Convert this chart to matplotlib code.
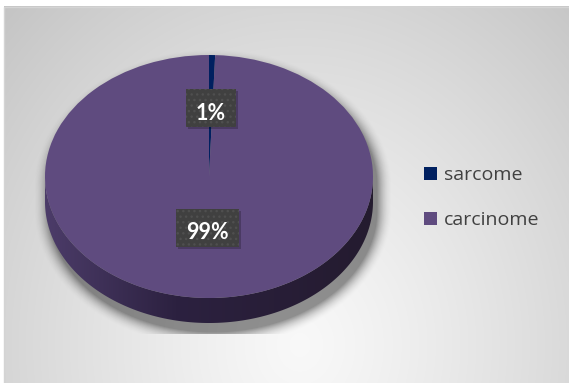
import numpy as np
import matplotlib
matplotlib.use('Agg')
import matplotlib.pyplot as plt
from matplotlib.patches import Polygon, Rectangle
from matplotlib.colors import LinearSegmentedColormap

plt.rcParams['hatch.linewidth'] = 1.0

# données
types = ['sarcome', 'carcinome']
parts = [0.6, 99.4]
couleurs = ['#002060', '#5f4b7f']
couleurs_cote = [['#0b1d4a', '#061332', '#040d24'],
                 ['#4c3c69', '#2c2140', '#241b2f']]
dist_etiq = [0.56, 0.42]

W, H = 569, 383
fig = plt.figure(figsize=(W / 100, H / 100), dpi=100)
fig.patch.set_facecolor('white')

# fond dégradé + ombre du camembert (coordonnées pixels)
bg = fig.add_axes([0, 0, 1, 1])
bg.set_xlim(0, W)
bg.set_ylim(H, 0)
bg.axis('off')

x0, y0 = 4, 6
yy, xx = np.mgrid[y0:H, x0:W] + 0.5
d = np.hypot((xx - 300) / 330, (yy - 345) / 380)
v = np.clip(0.975 - 0.155 * d ** 1.2, 0, 1)
bg.imshow(np.dstack([v, v, v]), extent=(x0, W, H, y0), aspect='auto', zorder=0)

cx, cy, a, b, ep = 209, 176.5, 164, 121.5, 25   # centre, demi-axes, épaisseur (px)
dxs = xx - cx - 4
dys = yy - cy - 9
dye = np.where(dys < 0, dys, np.maximum(dys - ep, 0))
r = np.hypot(dxs / a, dye / b)
rloc = np.hypot(dxs, dye) / np.maximum(r, 1e-6)
dd = (r - 1) * rloc
al = 0.42 * np.clip(1 - dd / 16, 0, 1) ** 2
al[yy > 334] = 0
ombre = np.zeros(al.shape + (4,))
ombre[..., 3] = al
bg.imshow(ombre, extent=(x0, W, H, y0), aspect='auto', zorder=1)
bg.add_patch(Rectangle((x0 + 0.5, y0 + 0.5), W, H, fill=False, ec='#d4d4d4', lw=1, zorder=2))

# camembert 3D : axes à échelle non égale => ellipse
lim_x, lim_y = 1.3, 1.4
axp = fig.add_axes([(cx - lim_x * a) / W, 1 - (cy + lim_y * b) / H,
                    2 * lim_x * a / W, 2 * lim_y * b / H])
wedges, _ = axp.pie(parts, colors=couleurs, startangle=90, counterclock=False,
                    wedgeprops=dict(linewidth=0))
for w in wedges:
    w.set_zorder(3)

ep_d = ep / b
for w, cc in zip(wedges, couleurs_cote):
    t = np.radians(np.linspace(w.theta1, w.theta2, 3000))
    t = t[np.sin(t) <= 0]
    if len(t) < 2:
        continue
    haut = np.column_stack([np.cos(t), np.sin(t)])
    bas = np.column_stack([np.cos(t), np.sin(t) - ep_d])[::-1]
    poly = Polygon(np.vstack([haut, bas]), closed=True, fc='none', ec='none')
    axp.add_patch(poly)
    cmap = LinearSegmentedColormap.from_list('cote', [(0, cc[0]), (0.4, cc[1]), (1, cc[2])])
    grad = np.linspace(0, 1, 256)[None, :]
    im = axp.imshow(grad, extent=(-1, 1, -1 - ep_d, 0), cmap=cmap, aspect='auto', zorder=2)
    im.set_clip_path(poly)

axp.set_aspect('auto')
axp.set_xlim(-lim_x, lim_x)
axp.set_ylim(-lim_y, lim_y)
axp.axis('off')

# étiquettes et légende
ov = fig.add_axes([0, 0, 1, 1])
ov.set_xlim(0, W)
ov.set_ylim(H, 0)
ov.axis('off')
ov.patch.set_alpha(0)

rend = fig.canvas.get_renderer()
total = sum(parts)
for w, p, dl in zip(wedges, parts, dist_etiq):
    m = np.radians((w.theta1 + w.theta2) / 2)
    disp = axp.transData.transform((dl * np.cos(m), dl * np.sin(m)))
    px, py = ov.transData.inverted().transform(disp)
    txt = ov.text(px, py + 11.5, '%.0f%%' % (p / total * 100), ha='center', va='baseline',
                  color='white', fontsize=15.5, fontweight='bold', family='Lato', zorder=6)
    bw = txt.get_window_extent(rend).width + 20
    bh = 38
    ov.add_patch(Rectangle((px - bw / 2 + 2, py - bh / 2 + 2), bw, bh, fc='black',
                           alpha=0.22, lw=0, zorder=4))
    ov.add_patch(Rectangle((px - bw / 2, py - bh / 2), bw, bh, fc='#404040', ec='#4f4f4f',
                           lw=0, hatch='...', zorder=5))

for i, (lab, col) in enumerate(zip(types, couleurs)):
    ly = 167 + 44.5 * i
    ov.add_patch(Rectangle((424, ly), 13, 13, fc=col, lw=0))
    ov.text(444, ly + 13.5, lab, va='baseline', fontsize=14, family='Open Sans',
            color='#404040')

fig.savefig('out.png', dpi=100)
